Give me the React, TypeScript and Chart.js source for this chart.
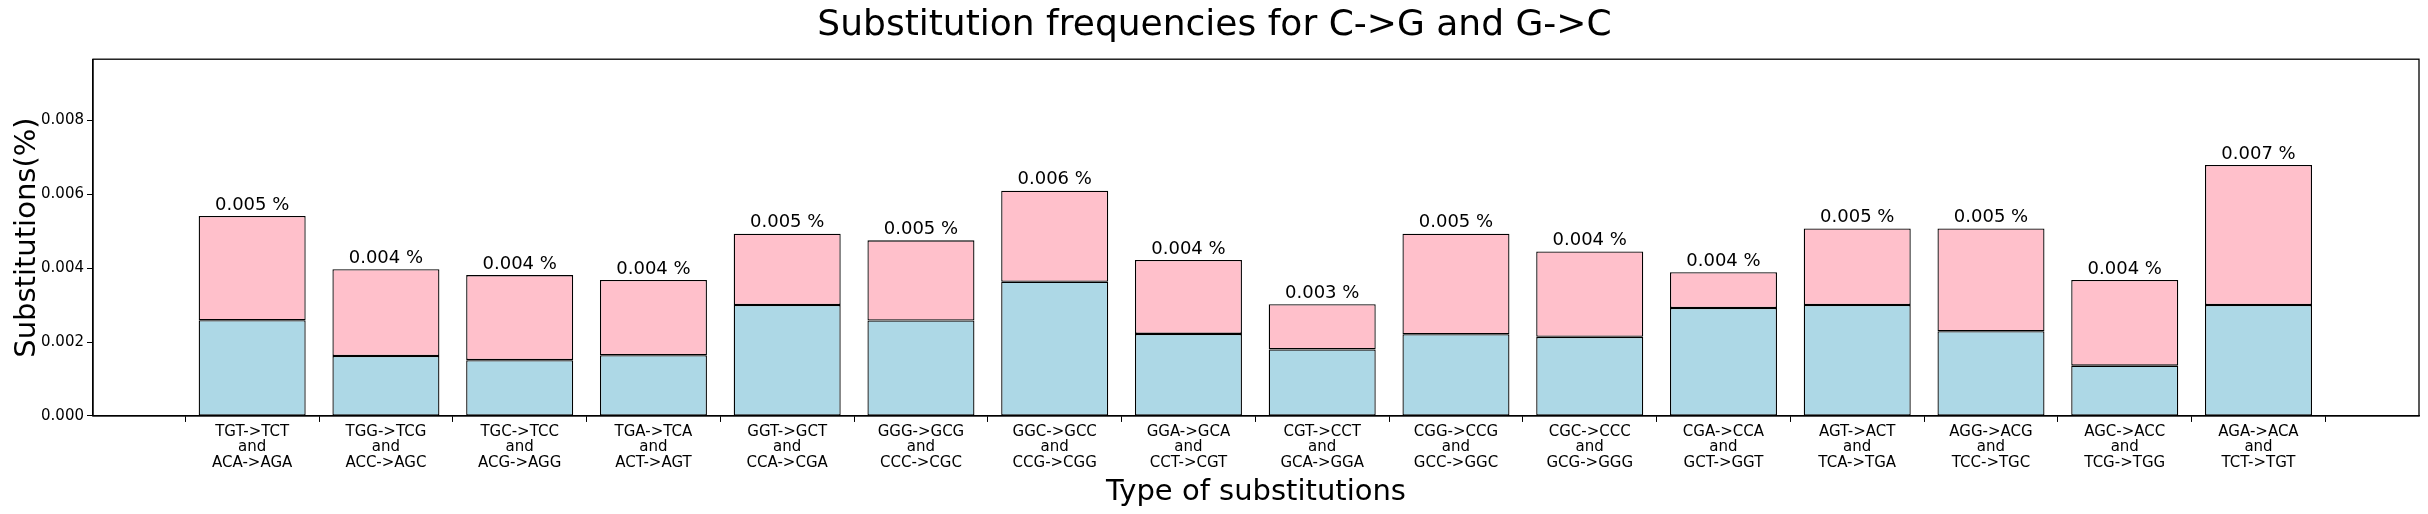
import React, { useRef, useEffect } from 'react';
import { Chart, registerables } from 'chart.js';

Chart.register(...registerables);

const categories = [
  'TGT->TCT\nand\nACA->AGA', 'TGG->TCG\nand\nACC->AGC', 'TGC->TCC\nand\nACG->AGG', 'TGA->TCA\nand\nACT->AGT',
  'GGT->GCT\nand\nCCA->CGA', 'GGG->GCG\nand\nCCC->CGC', 'GGC->GCC\nand\nCCG->CGG', 'GGA->GCA\nand\nCCT->CGT',
  'CGT->CCT\nand\nGCA->GGA', 'CGG->CCG\nand\nGCC->GGC', 'CGC->CCC\nand\nGCG->GGG', 'CGA->CCA\nand\nGCT->GGT',
  'AGT->ACT\nand\nTCA->TGA', 'AGG->ACG\nand\nTCC->TGC', 'AGC->ACC\nand\nTCG->TGG', 'AGA->ACA\nand\nTCT->TGT',
];
// lower (blue) part and total height of each bar
const blueValues = [0.00259, 0.00162, 0.00151, 0.00164, 0.00300, 0.00258, 0.00363, 0.00222, 0.00180, 0.00221, 0.00214, 0.00292, 0.00300, 0.00229, 0.00136, 0.00300];
const totalValues = [0.00541, 0.00397, 0.00381, 0.00368, 0.00493, 0.00475, 0.00609, 0.00422, 0.00302, 0.00493, 0.00445, 0.00389, 0.00507, 0.00507, 0.00368, 0.00679];
const pinkValues = totalValues.map((t, i) => t - blueValues[i]);
const yTicks = [0, 0.002, 0.004, 0.006, 0.008];

const FONT = 'DejaVu Sans';

const App: React.FC = () => {
  const canvasRef = useRef<HTMLCanvasElement | null>(null);

  useEffect(() => {
    document.body.style.margin = '0';
    if (!canvasRef.current) return;

    const extras = {
      id: 'extras',
      afterDatasetsDraw(chart: any) {
        const ctx = chart.ctx;
        const meta = chart.getDatasetMeta(1);
        ctx.save();
        ctx.fillStyle = '#000';
        ctx.font = `18px ${FONT}`;
        ctx.textAlign = 'center';
        ctx.textBaseline = 'bottom';
        meta.data.forEach((bar: any, i: number) => {
          ctx.fillText(`${totalValues[i].toFixed(3)} %`, bar.x, bar.y - 2);
        });
        const a = chart.chartArea;
        ctx.strokeStyle = '#000';
        ctx.lineWidth = 1.3;
        ctx.strokeRect(a.left, a.top, a.right - a.left, a.bottom - a.top);
        ctx.restore();
      },
    };

    const ds = {
      borderColor: '#000',
      borderWidth: 1.3,
      borderSkipped: false,
      barPercentage: 0.8,
      categoryPercentage: 1,
    };

    const chart = new Chart(canvasRef.current, {
      type: 'bar',
      data: {
        datasets: [
          { ...ds, data: blueValues.map((v, i) => ({ x: i, y: v })), backgroundColor: '#ADD8E6' },
          { ...ds, data: pinkValues.map((v, i) => ({ x: i, y: v })), backgroundColor: '#FFC0CB' },
        ],
      },
      options: {
        animation: false,
        responsive: false,
        layout: { padding: { left: 10, right: 9, top: 0, bottom: 0 } },
        plugins: {
          legend: { display: false },
          tooltip: { enabled: false },
          title: {
            display: true,
            text: 'Substitution frequencies for C->G and G->C',
            color: '#000',
            font: { family: FONT, size: 36, weight: 'normal' },
            padding: { top: 4, bottom: 12 },
          },
        },
        scales: {
          x: {
            type: 'linear',
            offset: false,
            stacked: true,
            min: -1.19,
            max: 16.2,
            afterBuildTicks: (axis: any) => {
              axis.ticks = categories.map((_, i) => ({ value: i }));
            },
            ticks: {
              autoSkip: false,
              maxRotation: 0,
              color: '#000',
              font: { family: FONT, size: 15, lineHeight: 1.05 },
              padding: 2,
              callback: (v: any) => categories[v as number]?.split('\n'),
            },
            grid: { display: true, drawOnChartArea: false, tickLength: 6, color: '#000' },
            border: { display: true, color: '#000', width: 1.3 },
            title: {
              display: true,
              text: 'Type of substitutions',
              color: '#000',
              font: { family: FONT, size: 29 },
              padding: { top: 2, bottom: 4 },
            },
          },
          y: {
            stacked: true,
            min: 0,
            max: 0.00965,
            afterBuildTicks: (axis: any) => {
              axis.ticks = yTicks.map((v) => ({ value: v }));
            },
            afterFit: (axis: any) => { axis.width = 83; },
            ticks: {
              color: '#000',
              font: { family: FONT, size: 15 },
              callback: (v: any) => (v as number).toFixed(3),
            },
            grid: { display: true, drawOnChartArea: false, tickLength: 6, color: '#000' },
            border: { display: true, color: '#000', width: 1.3 },
            title: {
              display: true,
              text: 'Substitutions(%)',
              color: '#000',
              font: { family: FONT, size: 29 },
              padding: { top: 0, bottom: 4 },
            },
          },
        },
      },
      plugins: [extras],
    } as any);

    return () => chart.destroy();
  }, []);

  return (
    <div style={{ width: 2428, height: 514, background: '#fff' }}>
      <canvas ref={canvasRef} width={2428} height={514} style={{ width: 2428, height: 514 }} />
    </div>
  );
};

export default App;
